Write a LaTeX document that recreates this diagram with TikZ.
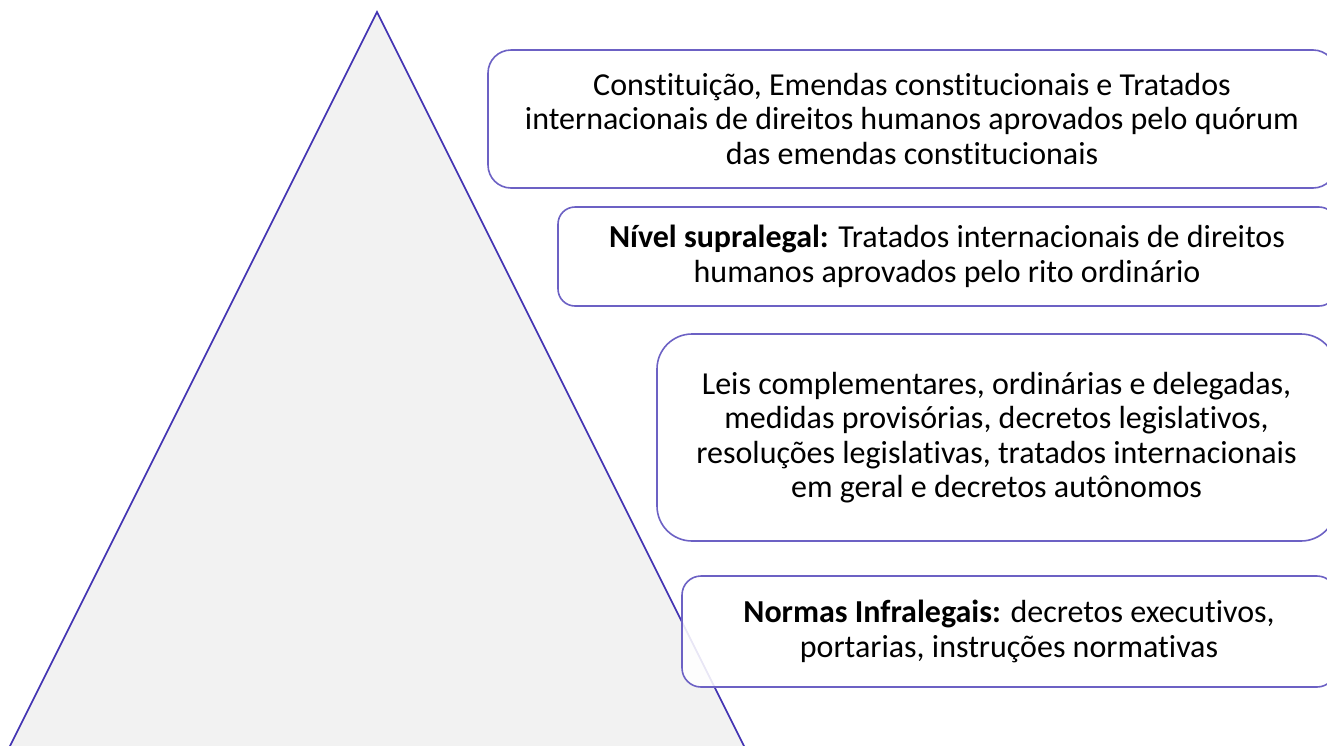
\documentclass[tikz,border=0pt]{standalone}
\usepackage{fontspec}
\setmainfont{Carlito}[Ligatures={NoCommon}]
\usepackage{tikz}

\definecolor{piramide}{HTML}{4233B2}
\definecolor{borda}{HTML}{6C61C4}
\definecolor{fundo}{HTML}{F2F2F2}

\tikzset{
  nivel/.style={draw=borda, line width=1.6pt, fill=white, fill opacity=0.88, text opacity=1,
    rounded corners=#1, align=center, inner sep=0pt,
    font=\fontsize{32}{34.5}\selectfont},
  nivel/.default=20pt
}

\begin{document}
\begin{tikzpicture}[x=1pt, y=-1pt]
\useasboundingbox (0,0) rectangle (1327,745);
\clip (0,0) rectangle (1327,745);
\coordinate (topo) at (377,12);
\coordinate (esq) at (-3,772);
\coordinate (dir) at (757,772);
\fill[fundo] (topo) -- (esq) -- (dir) -- cycle;
\draw[piramide, line width=1.6pt] (esq) -- (topo) -- (dir);
\node[nivel=23pt, minimum width=848pt, minimum height=138pt] (constituicao) at (912,119)
  {Constituição, Emendas constitucionais e Tratados\\internacionais de direitos humanos aprovados pelo quórum\\das emendas constitucionais};
\node[nivel=17pt, minimum width=778pt, minimum height=99pt] (supralegal) at (947,256.5)
  {\textbf{Nível supralegal:} Tratados internacionais de direitos\\humanos aprovados pelo rito ordinário};
\node[nivel=35pt, minimum width=679pt, minimum height=207pt] (leis) at (996.5,437.5)
  {Leis complementares, ordinárias e delegadas,\\medidas provisórias, decretos legislativos,\\resoluções legislativas, tratados internacionais\\em geral e decretos autônomos};
\node[nivel=19pt, minimum width=654pt, minimum height=111pt] (infralegal) at (1009,631.5)
  {\textbf{Normas Infralegais:} decretos executivos,\\portarias, instruções normativas};
\end{tikzpicture}
\end{document}
